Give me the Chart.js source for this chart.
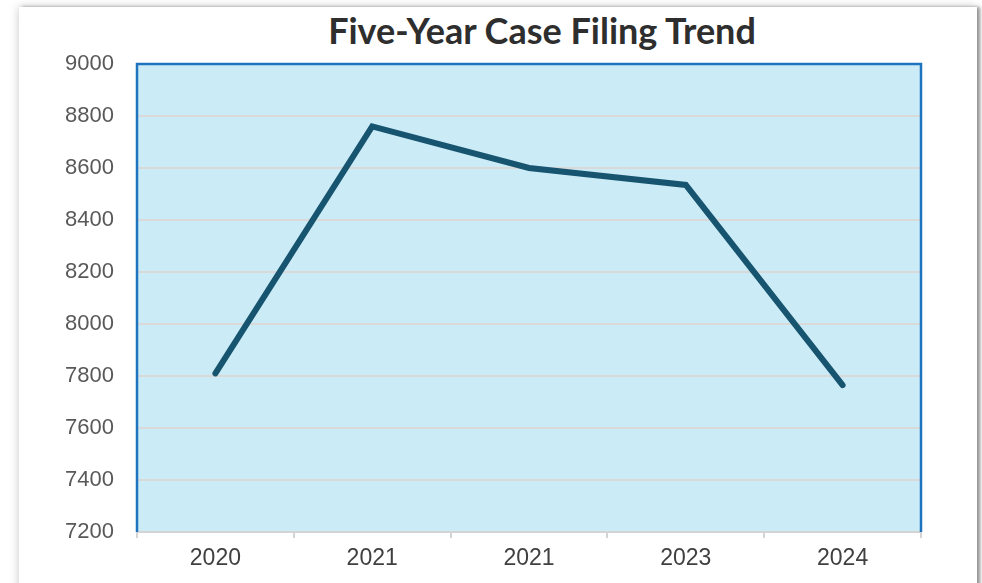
<!DOCTYPE html>
<html>
<head>
<meta charset="utf-8">
<script src="https://cdn.jsdelivr.net/npm/chart.js@4.4.1/dist/chart.umd.min.js"></script>
<style>
  html, body { margin: 0; padding: 0; background: #ffffff; width: 982px; height: 583px; overflow: hidden; }
  #card { position: absolute; left: 19px; top: 7px; width: 958px; height: 620px; background: #fff;
          box-shadow: 0 0 9px rgba(0,0,0,0.22), 3px 0 3px rgba(0,0,0,0.35); }
  #title { position: absolute; left: 0; width: 1084px; top: 9px; text-align: center; line-height: 1.2;
           font-family: Lato, "Open Sans", sans-serif; font-weight: bold; font-size: 36px; color: #2e2e2e; }
  #wrap { position: absolute; left: 0; top: 0; width: 982px; height: 583px; }
</style>
</head>
<body>
<div id="card"></div>
<div id="title">Five-Year Case Filing Trend</div>
<div id="wrap"><canvas id="c"></canvas></div>
<script>
const categories = ["2020", "2021", "2021", "2023", "2024"];
const caseFilings = [7810, 8760, 8600, 8535, 7765];
const yMin = 7200, yMax = 9000, yStep = 200;

const plotBg = {
  id: 'plotBg',
  beforeDraw(chart) {
    const {ctx, chartArea: a} = chart;
    ctx.save();
    ctx.fillStyle = '#cbebf7';
    ctx.fillRect(a.left, a.top, a.right - a.left, a.bottom - a.top);
    ctx.restore();
  },
  afterDatasetsDraw(chart) {
    const {ctx, chartArea: a} = chart;
    ctx.save();
    ctx.strokeStyle = '#1f74c0';
    ctx.lineWidth = 2.5;
    ctx.beginPath();
    ctx.moveTo(a.left, a.bottom);
    ctx.lineTo(a.left, a.top);
    ctx.lineTo(a.right, a.top);
    ctx.lineTo(a.right, a.bottom);
    ctx.stroke();
    ctx.restore();
  }
};

new Chart(document.getElementById('c'), {
  type: 'line',
  data: {
    labels: categories,
    datasets: [{
      data: caseFilings,
      borderColor: '#16546f',
      borderWidth: 6,
      borderCapStyle: 'round',
      borderJoinStyle: 'miter',
      pointRadius: 0,
      tension: 0,
      fill: false
    }]
  },
  options: {
    responsive: true,
    maintainAspectRatio: false,
    animation: false,
    layout: { padding: { top: 64, right: 61, left: 0, bottom: 0 } },
    plugins: { legend: { display: false }, title: { display: false }, tooltip: { enabled: false } },
    scales: {
      x: {
        offset: true,
        grid: { offset: true, drawOnChartArea: false, drawTicks: true, tickLength: 6, color: '#d4d4d4', lineWidth: 2 },
        border: { display: true, color: '#d4d4d4', width: 2 },
        ticks: { color: '#404040', font: { family: '"Liberation Sans", Arial, sans-serif', size: 23 }, padding: 7, maxRotation: 0 },
        afterFit(s) { s.height = 51; }
      },
      y: {
        min: yMin, max: yMax,
        ticks: { stepSize: yStep, color: '#595959', font: { family: '"Liberation Sans", Arial, sans-serif', size: 22 }, padding: 23,
                 callback: (v) => String(v) },
        grid: { color: '#d9d9d9', lineWidth: 2, drawTicks: false },
        border: { display: false },
        afterFit(s) { s.width = 137; }
      }
    }
  },
  plugins: [plotBg]
});
</script>
</body>
</html>
